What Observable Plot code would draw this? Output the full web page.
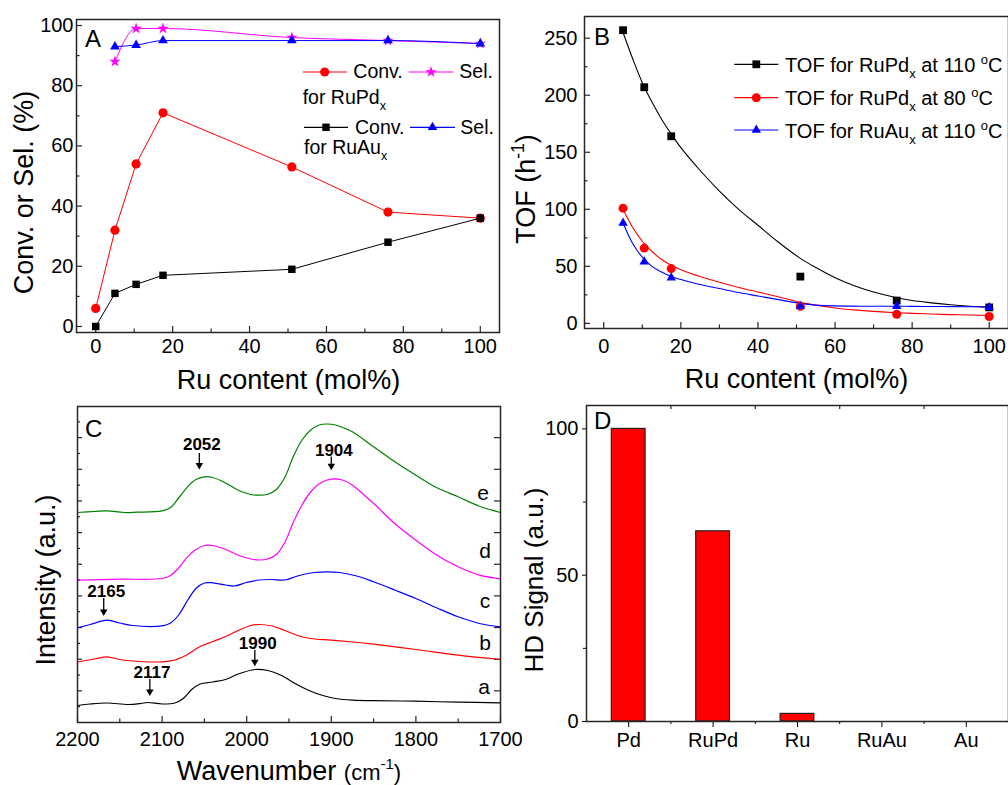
<!DOCTYPE html>
<html><head><meta charset="utf-8">
<script src="https://cdn.jsdelivr.net/npm/d3@7"></script>
<script src="https://cdn.jsdelivr.net/npm/@observablehq/plot@0.6"></script>
<style>
html,body{margin:0;padding:0;background:#fff;}
#wrap{position:relative;width:1008px;height:785px;overflow:hidden;font-family:"Liberation Sans",Arial,sans-serif;background:#fff;}
.panel{position:absolute;width:504px;}
.panel svg{display:block;max-width:none !important;}
#overlay{position:absolute;left:0;top:0;pointer-events:none;overflow:visible;}
</style></head><body><div id="wrap"></div>
<script>
// ---------------- Panel A data ----------------
const ruContentA = [0, 5, 10.5, 17.5, 51, 76, 100];
const convRuPd = [6, 32, 54, 71, 53, 38, 36];
const convRuAu = [0, 11, 14, 17, 19, 28, 36];
const ruContentSel = [5, 10.5, 17.5, 51, 76, 100];
const selRuPd = [88, 99, 99, 96, 95, 94];
const selRuAu = [93, 93.5, 95, 95, 95, 94];

// ---------------- Panel B data ----------------
const ruContentB = [5, 10.5, 17.5, 51, 76, 100];
const tofRuPd110 = [257, 207, 164, 41, 20, 14];
const tofRuPd80 = [101, 66, 48, 15, 8, 6];
const tofRuAu110 = [88, 54, 40, 15, 15, 14];
// fitted curves
const fitX = [5, 7.5, 10, 12.5, 15, 17.5, 20, 25, 30, 35, 40, 45, 51, 55, 60, 65, 70, 76, 80, 85, 90, 95, 100];
const fitRuPd110 = [255, 232, 211, 194, 179, 166, 154, 134, 116, 100, 86, 72, 57, 49, 40, 33, 27.5, 22.5, 20, 18, 16.3, 15, 14];
const fitRuPd80 = [100, 84, 72, 63, 56, 51, 47, 41, 36, 31.5, 27.5, 23.5, 18.5, 16, 13.5, 11.8, 10.5, 9.3, 8.8, 8.2, 7.7, 7.3, 7];
const fitRuAu110 = [88, 70, 58, 50, 45, 41, 38.5, 34, 30.5, 27, 24, 21, 17.5, 16, 15.3, 15.1, 15, 15, 14.9, 14.8, 14.7, 14.6, 14.5];

// ---------------- Panel C data (wavenumber, intensity a.u.) ----------------
const specA = [[2200,17],[2185,18.5],[2165,19.5],[2140,18],[2125,19],[2117,20],[2100,18.5],[2085,19.5],[2075,24],[2065,33],[2055,38.5],[2040,40.5],[2025,43],[2010,48.5],[1990,53],[1975,52],[1960,47.5],[1945,40],[1925,31.5],[1910,27],[1895,24],[1875,22.3],[1850,21.8],[1800,21.3],[1750,20.3],[1700,19.7]];
const specB = [[2200,60.5],[2180,63.5],[2165,65.7],[2150,63],[2135,61.5],[2100,60.7],[2085,62.5],[2070,68],[2055,76],[2040,81],[2025,86],[2010,92],[1995,97],[1985,98],[1970,96.5],[1955,92],[1940,87],[1925,84],[1900,82.3],[1875,80.5],[1850,78.3],[1800,73],[1750,67.3],[1700,63]];
const specC = [[2200,94.7],[2185,98],[2165,102.3],[2150,99.5],[2135,97],[2100,96.7],[2090,99.5],[2080,108],[2070,122],[2060,134],[2050,139.5],[2040,139.7],[2025,137.5],[2015,136.5],[2000,140],[1985,142.5],[1970,143],[1955,142.5],[1940,146.5],[1920,150],[1905,150.7],[1890,150],[1870,146.5],[1850,140.7],[1825,132.5],[1800,124],[1775,114.5],[1750,105.7],[1725,99],[1700,95.7]];
const specD = [[2200,142.3],[2150,143.3],[2100,144],[2090,147],[2080,155],[2070,165.7],[2060,173],[2050,177],[2040,177],[2025,173],[2010,167.3],[1995,163.5],[1985,162.5],[1975,163.5],[1965,168],[1955,180],[1945,200],[1935,217],[1925,230],[1915,238.3],[1905,242.5],[1895,243.7],[1885,242],[1875,237.3],[1850,219],[1825,199],[1800,182.3],[1775,167.3],[1750,155.7],[1725,147.3],[1700,143.7]];
const specE = [[2200,210],[2180,211],[2165,211.7],[2145,210],[2130,210.3],[2100,211.7],[2090,215],[2080,225],[2070,235.7],[2060,243],[2050,245.7],[2040,245],[2025,239.5],[2010,232.3],[1995,228],[1985,227.3],[1975,228.3],[1965,233],[1955,245],[1945,265.7],[1935,282],[1925,292],[1915,297.3],[1905,298.5],[1895,297.5],[1885,294.5],[1875,290.7],[1850,275.7],[1825,260.7],[1800,247.3],[1775,234.7],[1750,225.7],[1725,216.3],[1700,210]];
const peakLabels = ["2052", "1904", "2165", "2117", "1990"];
const peakTextX = [2053, 1897, 2166, 2112, 1987];
const peakTextY = [278, 271.5, 130.6, 49.8, 79];
const peakArrowX = [2056, 1900, 2169, 2114.5, 1990.4];
const peakArrowTop = [269, 265.6, 124, 43, 72.3];
const peakArrowTip = [253, 252.3, 106.6, 26.6, 56.3];

// ---------------- Panel D data ----------------
const catsD = ["Pd", "RuPd", "Ru", "RuAu", "Au"];
const hdSignal = [100, 65, 2.6, 0, 0];

// ---------------- helpers ----------------
const FONT = '"Liberation Sans", Arial, Helvetica, sans-serif';
const AX = "#262626";
const RED = "#ff0000", BLUE = "#0000ff", MAG = "#ff00ff", BLK = "#000000", GRN = "#008000";
const wrap = d3.select("#wrap");
const rows = (xs, ys) => xs.map((x, i) => ({x, y: ys[i]}));
function place(plot, left, top) {
  const div = wrap.append("div").attr("class", "panel").style("left", left + "px").style("top", top + "px");
  div.node().appendChild(plot);
}
const style = () => ({fontFamily: FONT, fontSize: "20px", color: "#000", background: "transparent", overflow: "visible"});
function ticksX(vals, len, innerH, where) {
  return Plot.ruleX(vals, {x: d => d, stroke: AX, strokeWidth: 1.2, ...(where === "top" ? {insetBottom: innerH - len} : {insetTop: innerH - len})});
}
function ticksY(vals, len, innerW, where) {
  return Plot.ruleY(vals, {y: d => d, stroke: AX, strokeWidth: 1.2, ...(where === "right" ? {insetLeft: innerW - len} : {insetRight: innerW - len})});
}

// ---------------- Panel A ----------------
{
  const W = 504, H = 390, mt = 19, mr = 5, mb = 58, ml = 76;
  const iw = W - ml - mr, ih = H - mt - mb;
  const major = d3.range(0, 101, 20), minor = d3.range(10, 100, 20);
  const p = Plot.plot({
    width: W, height: H, marginTop: mt, marginRight: mr, marginBottom: mb, marginLeft: ml,
    x: {domain: [-5, 105]}, y: {domain: [-2, 102]}, style: style(),
    marks: [
      ticksX(major, 6, ih), ticksX(minor, 3.5, ih),
      ticksY(major, 6, iw), ticksY(minor, 3.5, iw),
      Plot.axisX({ticks: major, tickSize: 0, tickPadding: 6, label: null, fontSize: 20}),
      Plot.axisY({ticks: major, tickSize: 0, tickPadding: 3, label: null, fontSize: 20}),
      Plot.line(rows(ruContentA, convRuPd), {x: "x", y: "y", stroke: RED, strokeWidth: 1}),
      Plot.line(rows(ruContentA, convRuAu), {x: "x", y: "y", stroke: BLK, strokeWidth: 1}),
      Plot.line(rows(ruContentSel, selRuPd), {x: "x", y: "y", stroke: MAG, strokeWidth: 1, curve: "monotone-x"}),
      Plot.line(rows(ruContentSel, selRuAu), {x: "x", y: "y", stroke: BLUE, strokeWidth: 1, curve: "monotone-x"}),
      Plot.dot(rows(ruContentA, convRuPd), {x: "x", y: "y", r: 4.6, fill: RED, symbol: "circle"}),
      Plot.dot(rows(ruContentA, convRuAu), {x: "x", y: "y", r: 4.2, fill: BLK, symbol: "square"}),
      Plot.dot(rows(ruContentSel, selRuPd), {x: "x", y: "y", r: 3.6, fill: MAG, symbol: "star"}),
      Plot.dot(rows(ruContentSel, selRuAu), {x: "x", y: "y", r: 3.6, fill: BLUE, symbol: "triangle"}),
      Plot.frame({stroke: AX, strokeWidth: 1.5})
    ]
  });
  place(p, 0, 0);
}

// ---------------- Panel B ----------------
{
  const W = 504, H = 390, mt = 16, mr = 0, mb = 62, ml = 80;
  const iw = W - ml - mr, ih = H - mt - mb;
  const xMajor = d3.range(0, 101, 20), xMinor = d3.range(10, 100, 20);
  const yMajor = d3.range(0, 251, 50), yMinor = d3.range(25, 251, 50);
  const p = Plot.plot({
    width: W, height: H, marginTop: mt, marginRight: mr, marginBottom: mb, marginLeft: ml,
    x: {domain: [-5, 105]}, y: {domain: [-4.5, 269]}, style: style(),
    marks: [
      ticksX(xMajor, 6, ih), ticksX(xMinor, 3.5, ih),
      ticksY(yMajor, 6, iw), ticksY(yMinor, 3.5, iw),
      Plot.axisX({ticks: xMajor, tickSize: 0, tickPadding: 10, label: null, fontSize: 20}),
      Plot.axisY({ticks: yMajor, tickSize: 0, tickPadding: 7, label: null, fontSize: 20}),
      Plot.line(rows(fitX, fitRuPd110), {x: "x", y: "y", stroke: BLK, strokeWidth: 1.1, curve: "catmull-rom"}),
      Plot.line(rows(fitX, fitRuPd80), {x: "x", y: "y", stroke: RED, strokeWidth: 1.1, curve: "catmull-rom"}),
      Plot.line(rows(fitX, fitRuAu110), {x: "x", y: "y", stroke: BLUE, strokeWidth: 1.1, curve: "catmull-rom"}),
      Plot.dot(rows(ruContentB, tofRuPd110), {x: "x", y: "y", r: 4.4, fill: BLK, symbol: "square"}),
      Plot.dot(rows(ruContentB, tofRuPd80), {x: "x", y: "y", r: 4.5, fill: RED, symbol: "circle"}),
      Plot.dot(rows(ruContentB, tofRuAu110), {x: "x", y: "y", r: 3.5, fill: BLUE, symbol: "triangle"}),
      Plot.frame({stroke: AX, strokeWidth: 1.5})
    ]
  });
  place(p, 504, 0);
}

// ---------------- Panel C ----------------
{
  const W = 504, H = 395, mt = 16, mr = 4, mb = 63, ml = 77;
  const iw = W - ml - mr, ih = H - mt - mb;
  const xMajor = d3.range(1700, 2201, 100), xMinor = d3.range(1750, 2200, 100);
  const yMajor = d3.range(1, 10).map(k => k * 31.65), yMinor = d3.range(0, 10).map(k => (k + 0.5) * 31.65);
  const peaks = peakLabels.map((t, i) => ({t, tx: peakTextX[i], ty: peakTextY[i], ax: peakArrowX[i], a1: peakArrowTop[i], a2: peakArrowTip[i]}));
  const spec = (data, color) => Plot.line(data, {x: d => d[0], y: d => d[1], stroke: color, strokeWidth: 1.2, curve: "catmull-rom"});
  const p = Plot.plot({
    width: W, height: H, marginTop: mt, marginRight: mr, marginBottom: mb, marginLeft: ml,
    x: {domain: [2200, 1700]}, y: {domain: [0, 316], axis: null}, style: style(),
    marks: [
      ticksX(xMajor, 6, ih), ticksX(xMinor, 3.5, ih),
      ticksY(yMajor, 5, iw), ticksY(yMinor, 3, iw),
      ticksY(yMajor, 6, iw, "right"),
      Plot.axisX({ticks: xMajor, tickSize: 0, tickPadding: 9, label: null, fontSize: 20, tickFormat: d => String(d)}),
      spec(specA, BLK), spec(specB, RED), spec(specC, BLUE), spec(specD, MAG), spec(specE, GRN),
      Plot.ruleX(peaks, {x: "ax", y1: "a1", y2: d => d.a2 + 3, stroke: BLK, strokeWidth: 1.3}),
      Plot.dot(peaks, {x: "ax", y: "a2", symbol: "triangle", rotate: 180, r: 2.8, fill: BLK, dy: -4.3}),
      Plot.text(peaks, {x: "tx", y: "ty", text: "t", fontSize: 17, fontWeight: "bold", fill: BLK}),
      Plot.frame({stroke: AX, strokeWidth: 1.5})
    ]
  });
  place(p, 0, 390);
}

// ---------------- Panel D ----------------
{
  const W = 504, H = 395, mt = 15, mr = 0, mb = 64, ml = 82;
  const iw = W - ml - mr, ih = H - mt - mb;
  const bars = catsD.map((c, i) => ({c, i: i + 1, v: hdSignal[i]}));
  const p = Plot.plot({
    width: W, height: H, marginTop: mt, marginRight: mr, marginBottom: mb, marginLeft: ml,
    x: {domain: [0.5, 5.5]}, y: {domain: [0, 108]}, style: style(),
    marks: [
      Plot.rectY(bars, {x1: d => d.i - 0.2, x2: d => d.i + 0.2, y1: 0, y2: "v", fill: RED, stroke: "#222", strokeWidth: 1.2}),
      ticksX([1.5, 2.5, 3.5, 4.5], 4, ih, "top"),
      Plot.axisX({ticks: [1, 2, 3, 4, 5], tickSize: 6, tickPadding: 5, label: null, fontSize: 20, tickFormat: d => catsD[d - 1]}),
      Plot.axisX({ticks: [1.5, 2.5, 3.5, 4.5], tickSize: 3, label: null, tickFormat: () => ""}),
      Plot.axisY({ticks: [0, 50, 100], tickSize: 4, tickPadding: 4, label: null, fontSize: 20}),
      Plot.axisY({ticks: [25, 75], tickSize: 3, label: null, tickFormat: () => ""}),
      Plot.frame({stroke: AX, strokeWidth: 1.5})
    ]
  });
  place(p, 504, 390);
}

// ---------------- Overlay: titles, legends, labels ----------------
const ov = wrap.append("svg").attr("id", "overlay").attr("width", 1008).attr("height", 785)
  .style("font-family", FONT);
function rich(x, y, parts, size, opts = {}) {
  const t = ov.append("text").attr("x", x).attr("y", y).attr("font-size", size).attr("fill", "#000");
  if (opts.anchor) t.attr("text-anchor", opts.anchor);
  if (opts.rotate) t.attr("transform", `rotate(-90, ${x}, ${y})`);
  if (opts.weight) t.attr("font-weight", opts.weight);
  let shift = 0;
  parts.forEach(p => {
    if (typeof p === "string") {
      t.append("tspan").attr("dy", -shift).text(p); shift = 0;
    } else if (p.small != null) {
      t.append("tspan").attr("dy", -shift).attr("font-size", p.size).text(p.small); shift = 0;
    } else {
      const d = p.sub != null ? size * 0.32 : -size * 0.4;
      t.append("tspan").attr("dy", d - shift).attr("font-size", p.size || size * 0.65).text(p.sub != null ? p.sub : p.sup);
      shift = d;
    }
  });
  return t;
}
function swatch(x1, x2, y, color, symbol, r) {
  ov.append("line").attr("x1", x1).attr("x2", x2).attr("y1", y).attr("y2", y).attr("stroke", color).attr("stroke-width", 1.2);
  ov.append("path").attr("d", d3.symbol(symbol, Math.PI * r * r)()).attr("transform", `translate(${(x1 + x2) / 2},${y})`).attr("fill", color);
}

// panel letters
rich(85, 47, ["A"], 24);
rich(594, 45, ["B"], 24);
rich(85, 437, ["C"], 24);
rich(594, 429, ["D"], 24);

// axis titles
rich(288.5, 389, ["Ru content (mol%)"], 27, {anchor: "middle"});
rich(796.5, 388, ["Ru content (mol%)"], 27, {anchor: "middle"});
rich(289, 780, ["Wavenumber ", {small: "(cm", size: 22}, {sup: "-1", size: 15}, {small: ")", size: 22}], 27, {anchor: "middle"});
rich(33, 192.5, ["Conv. or Sel. (%)"], 27, {anchor: "middle", rotate: true});
rich(535, 189, ["TOF (h", {sup: "-1"}, ")"], 27, {anchor: "middle", rotate: true});
rich(55, 580, ["Intensity (a.u.)"], 27, {anchor: "middle", rotate: true});
rich(543, 580, ["HD Signal (a.u.)"], 26, {anchor: "middle", rotate: true});

// legend A
swatch(302.7, 346.7, 72, RED, d3.symbolCircle, 4.6);
rich(353.3, 78.3, ["Conv."], 19.5);
swatch(408.7, 453.3, 72, MAG, d3.symbolStar, 3.6);
rich(459.3, 78.3, ["Sel."], 19.5);
rich(302.7, 103.5, ["for RuPd", {sub: "x"}], 19.5);
swatch(304, 348, 127.3, BLK, d3.symbolSquare, 4.2);
rich(355, 133.5, ["Conv."], 19.5);
swatch(410, 455, 127.3, BLUE, d3.symbolTriangle, 3.6);
rich(460.3, 133.5, ["Sel."], 19.5);
rich(304, 153.5, ["for RuAu", {sub: "x"}], 19.5);

// legend B
swatch(734.3, 778.3, 64.3, BLK, d3.symbolSquare, 4.4);
rich(785, 72, ["TOF for RuPd", {sub: "x"}, " at 110 ", {sup: "o"}, "C"], 20);
swatch(734.3, 778.3, 97.7, RED, d3.symbolCircle, 4.5);
rich(785, 105, ["TOF for RuPd", {sub: "x"}, " at 80 ", {sup: "o"}, "C"], 20);
swatch(734.3, 778.3, 130, BLUE, d3.symbolTriangle, 3.5);
rich(785, 137.7, ["TOF for RuAu", {sub: "x"}, " at 110 ", {sup: "o"}, "C"], 20);

// curve letters in C
rich(483, 500, ["e"], 21, {anchor: "middle"});
rich(485, 558, ["d"], 21, {anchor: "middle"});
rich(485, 608, ["c"], 21, {anchor: "middle"});
rich(485, 650, ["b"], 21, {anchor: "middle"});
rich(484, 694, ["a"], 21, {anchor: "middle"});
</script>
</body></html>
